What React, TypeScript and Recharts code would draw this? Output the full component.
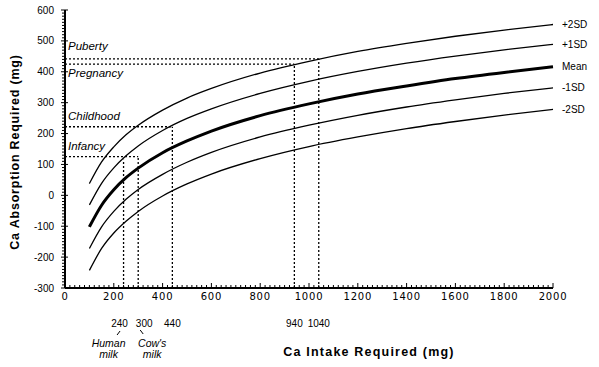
import { Line, LineChart, ReferenceDot, ReferenceLine, XAxis, YAxis } from 'recharts';

// Ca intake (mg) where the curves were read
const intake = [100, 150, 200, 250, 300, 400, 500, 600, 800, 1000, 1200, 1400, 1600, 1800, 2000];

// Ca absorption required (mg)
const plus2sd = [38, 108, 157, 196, 227, 276, 315, 346, 396, 434, 466, 492, 515, 535, 553];
const plus1sd = [-31, 39, 89, 128, 160, 210, 249, 280, 330, 369, 401, 428, 451, 471, 489];
const mean = [-102, -32, 18, 57, 88, 138, 176, 208, 258, 296, 328, 354, 378, 398, 416];
const minus1sd = [-172, -102, -52, -13, 19, 68, 107, 139, 189, 227, 259, 286, 309, 330, 348];
const minus2sd = [-243, -172, -122, -84, -52, -2, 37, 69, 119, 158, 189, 216, 239, 260, 278];

const seriesNames = ['+2SD', '+1SD', 'Mean', '-1SD', '-2SD'];
const seriesValues = [plus2sd, plus1sd, mean, minus1sd, minus2sd];

// life stages: required absorption and the intake that meets it
const stages = ['Puberty', 'Pregnancy', 'Childhood', 'Infancy'];
const stageAbsorption = [442, 425, 222, 125];
const stageIntake = [1040, 940, 440, 300];

// marked intakes on the x axis
const intakeMarks = [240, 300, 440, 940, 1040];
const intakeMarkTop = [115, 125, 222, 425, 442];
const milkNotes: Record<number, string[]> = { 240: ['Human', 'milk'], 300: ["Cow's", 'milk'] };

const xTicks = [0, 200, 400, 600, 800, 1000, 1200, 1400, 1600, 1800, 2000];
const yTicks = [-300, -200, -100, 0, 100, 200, 300, 400, 500, 600];

const xMinor = Array.from({ length: 101 }, (_, i) => i * 20);
const yMinor = Array.from({ length: 91 }, (_, i) => -300 + i * 10);

const data = intake.map((x, i) => {
  const row: Record<string, number> = { x };
  seriesNames.forEach((n, k) => (row[n] = seriesValues[k][i]));
  return row;
});

const font = '"Liberation Sans", Arial, sans-serif';

function XTick(props: any) {
  const { x, y, payload } = props;
  const major = xTicks.includes(payload.value);
  return (
    <g>
      <line x1={x} x2={x} y1={y} y2={y - (major ? 5 : 3)} stroke='#000' strokeWidth={1} />
      {major && (
        <text x={x} y={y + 12} textAnchor='middle' fontSize={10} fontFamily='"DejaVu Sans", sans-serif' letterSpacing={0.8} fill='#000'>
          {payload.value}
        </text>
      )}
    </g>
  );
}

function YTick(props: any) {
  const { x, y, payload } = props;
  const major = yTicks.includes(payload.value);
  return (
    <g>
      <line x1={major ? x - 4 : x - 3} x2={major ? x + 3 : x} y1={y} y2={y} stroke='#000' strokeWidth={1} />
      {major && (
        <text x={x - 11} y={y + 3.5} textAnchor='end' fontSize={10} fontFamily={font} fill='#000'>
          {payload.value}
        </text>
      )}
    </g>
  );
}

const vb = (p: any) => p.viewBox ?? { x: p.x, y: p.y };

const stageDy: Record<string, number> = { Puberty: -9, Pregnancy: 13, Childhood: -7, Infancy: -7 };
const markDx: Record<number, number> = { 240: -4, 300: 6 };

export default function App() {
  return (
    <div style={{ position: 'absolute', left: 0, top: 0, background: '#fff' }}>
      <LineChart width={599} height={367} data={data} margin={{ top: 10, right: 46, bottom: 0, left: 0 }}>
        <XAxis
          type='number'
          dataKey='x'
          domain={[0, 2000]}
          ticks={xMinor}
          interval={0}
          height={79}
          tickSize={0}
          tickMargin={0}
          tickLine={false}
          tick={<XTick />}
          axisLine={{ stroke: '#000', strokeWidth: 2 }}
          label={{
            content: (p: any) => {
              const v = vb(p);
              return (
                <text x={v.x + v.width / 2 + 60} y={v.y + 68} textAnchor='middle' fontSize={12.5} fontWeight='bold' letterSpacing={1.2} fontFamily={font} fill='#000'>
                  Ca Intake Required (mg)
                </text>
              );
            },
          }}
        />
        <YAxis
          type='number'
          domain={[-300, 600]}
          ticks={yMinor}
          interval={0}
          width={65}
          tickSize={0}
          tickMargin={0}
          tickLine={false}
          tick={<YTick />}
          axisLine={{ stroke: '#000', strokeWidth: 2 }}
          label={{
            content: (p: any) => {
              const v = vb(p);
              const cx = v.x + 19;
              const cy = v.y + v.height / 2 + 3;
              return (
                <text x={cx} y={cy} transform={`rotate(-90 ${cx} ${cy})`} textAnchor='middle' fontSize={12.5} fontWeight='bold' letterSpacing={0.8} fontFamily={font} fill='#000'>
                  Ca Absorption Required (mg)
                </text>
              );
            },
          }}
        />

        {stages.map((s, i) => (
          <ReferenceLine
            key={s}
            segment={[
              { x: 0, y: stageAbsorption[i] },
              { x: stageIntake[i], y: stageAbsorption[i] },
            ]}
            stroke='#000'
            strokeWidth={1.3}
            strokeDasharray='2 2'
            ifOverflow='visible'
          />
        ))}
        {intakeMarks.map((m, i) => (
          <ReferenceLine
            key={'v' + m}
            segment={[
              { x: m, y: -300 },
              { x: m, y: intakeMarkTop[i] },
            ]}
            stroke='#000'
            strokeWidth={1.3}
            strokeDasharray='2 2'
            ifOverflow='visible'
          />
        ))}

        {seriesNames.map((n) => (
          <Line
            key={n}
            dataKey={n}
            type='monotone'
            stroke='#000'
            strokeWidth={n === 'Mean' ? 3 : 1.3}
            dot={false}
            activeDot={false}
            isAnimationActive={false}
            label={(p: any) => {
              if (p.index !== intake.length - 1) return <g />;
              const v = vb(p);
              return (
                <text x={v.x + 9} y={v.y + 3.5} fontSize={10} fontFamily={font} fill='#000'>
                  {n}
                </text>
              );
            }}
          />
        ))}

        {stages.map((s, i) => (
          <ReferenceDot
            key={'t' + s}
            x={0}
            y={stageAbsorption[i]}
            r={0}
            fill='none'
            stroke='none'
            label={{
              content: (p: any) => {
                const v = vb(p);
                return (
                  <text x={v.x + 3} y={v.y + stageDy[s]} fontSize={11.5} fontStyle='italic' fontFamily={font} fill='#000'>
                    {s}
                  </text>
                );
              },
            }}
          />
        ))}

        {intakeMarks.map((m) => (
          <ReferenceDot
            key={'m' + m}
            x={m}
            y={-300}
            r={0}
            fill='none'
            stroke='none'
            label={{
              content: (p: any) => {
                const v = vb(p);
                const note = milkNotes[m];
                const left = m === 240;
                const nx = v.x + (left ? -15 : 14);
                return (
                  <g fontFamily={font} fill='#000'>
                    <text x={v.x + (markDx[m] ?? 0)} y={v.y + 39} textAnchor='middle' fontSize={10}>
                      {m}
                    </text>
                    {note && (
                      <>
                        <line
                          x1={v.x + (left ? -6.5 : 2)}
                          y1={v.y + (left ? 47 : 42)}
                          x2={v.x + (left ? -3.5 : 5)}
                          y2={v.y + (left ? 43 : 46)}
                          stroke='#000'
                          strokeWidth={1}
                        />
                        <text x={nx} y={v.y + 59} textAnchor='middle' fontSize={10.5} fontStyle='italic'>
                          {note[0]}
                        </text>
                        <text x={nx} y={v.y + 70} textAnchor='middle' fontSize={10.5} fontStyle='italic'>
                          {note[1]}
                        </text>
                      </>
                    )}
                  </g>
                );
              },
            }}
          />
        ))}
      </LineChart>
    </div>
  );
}
